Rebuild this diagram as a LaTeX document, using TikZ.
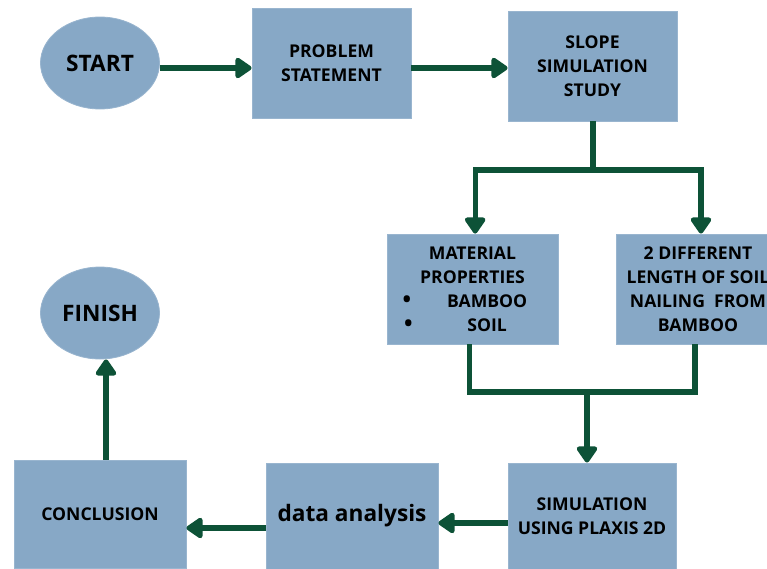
\documentclass[tikz,border=0pt]{standalone}
\usepackage{fontspec}
\setmainfont{Open Sans}
\usetikzlibrary{arrows.meta,shapes.geometric}
\definecolor{boxblue}{HTML}{87A8C6}
\definecolor{arrgreen}{HTML}{0D5237}
\newcommand{\bigbul}{{\fontsize{17}{18}\selectfont\textbullet}}
\tikzset{
  blk/.style={rectangle, fill=boxblue, draw=boxblue!85!white, line width=0.6pt, inner sep=0pt, align=center,
              font=\bfseries\fontsize{13.2}{18}\selectfont},
  oval/.style={ellipse, fill=boxblue, draw=boxblue!85!white, line width=0.6pt, inner sep=0pt,
              minimum width=119*0.75pt, minimum height=92*0.75pt, font=\bfseries\fontsize{17}{20}\selectfont},
  conn/.style={draw=arrgreen, line width=3.8pt},
  arr/.style={conn, -{Triangle[length=13.5pt,width=17.5pt,round]}}
}
\begin{document}
\begin{tikzpicture}[x=0.75pt,y=-0.75pt]
\useasboundingbox (0,0) rectangle (767,568);
\clip (0,0) rectangle (767,568);
% nodes
\node[oval] (start) at (100,63) {START};
\node[blk, minimum width=159*0.75pt, minimum height=110*0.75pt] (prob) at (331.5,63) {PROBLEM\\STATEMENT};
\node[blk, minimum width=169*0.75pt, minimum height=110*0.75pt] (slope) at (592.5,66) {SLOPE\\SIMULATION\\STUDY};
\node[blk, minimum width=171*0.75pt, minimum height=110*0.75pt] (mat) at (472.5,289)
  {MATERIAL\\PROPERTIES\\\hspace*{22pt}\llap{\bigbul\hspace{27pt}}BAMBOO\\\hspace*{22pt}\llap{\bigbul\hspace{41pt}}SOIL};
\node[blk, minimum width=164*0.75pt, minimum height=110*0.75pt] (diff) at (698,289)
  {2 DIFFERENT\\LENGTH OF SOIL\\NAILING\ \ FROM\\BAMBOO};
\node[blk, minimum width=168*0.75pt, minimum height=106*0.75pt] (sim) at (592,516) {SIMULATION\\USING PLAXIS 2D};
\node[blk, minimum width=172*0.75pt, minimum height=106*0.75pt, font=\bfseries\fontsize{17}{20}\selectfont] (data) at (352,516) {data analysis};
\node[blk, minimum width=172*0.75pt, minimum height=108*0.75pt] (concl) at (100,514) {CONCLUSION};
\node[oval] (finish) at (100,313) {FINISH};
% connectors
\draw[arr] ([yshift=-3.75pt]start.east) -- ([yshift=-3.75pt]start.east -| prob.west);
\draw[arr] ([yshift=-3.75pt]prob.east) -- ([yshift=-3.75pt]prob.east -| slope.west);
\coordinate (split) at (593,170);
\draw[arr] (slope.south -| split) -- (split) -| ([xshift=2pt]mat.north);
\draw[arr] (slope.south -| split) -- (split) -| ([xshift=2.25pt]diff.north);
\coordinate (merge) at (587,392);
\draw[conn] ([xshift=-2.5pt]mat.south) |- (merge);
\draw[conn] ([xshift=-2.25pt]diff.south) |- (merge);
\draw[arr] ([yshift=-1.9pt]merge) -- (merge |- sim.north);
\draw[arr] ([yshift=-5.25pt]sim.west) -- ([yshift=-5.25pt]sim.west -| data.east);
\draw[arr] ([yshift=-9pt]data.west) -- ([yshift=-9pt]data.west -| concl.east);
\draw[arr] ([xshift=4.5pt]concl.north) -- ([xshift=4.5pt]concl.north |- finish.south);
\end{tikzpicture}
\end{document}
